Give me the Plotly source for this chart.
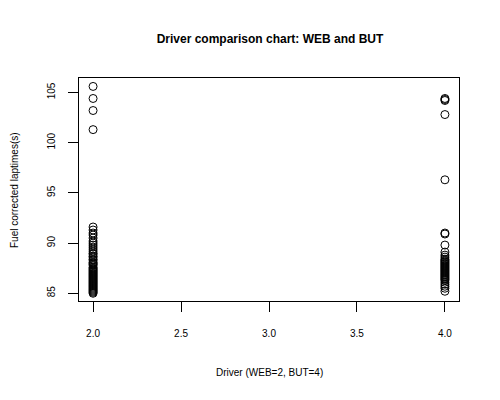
import plotly.graph_objects as go

# Data
web_laptimes = [105.6, 104.4, 103.2, 101.3,
                91.6, 91.3, 91.0, 90.8, 90.5, 90.2, 90.0, 89.8, 89.6, 89.4, 89.2,
                89.0, 88.9, 88.7, 88.6, 88.4, 88.3, 88.1, 88.0, 87.9, 87.8, 87.6,
                87.5, 87.4, 87.3, 87.2, 87.1, 87.0, 86.9, 86.8, 86.7, 86.6, 86.5,
                86.4, 86.3, 86.2, 86.1, 86.0, 85.9, 85.8, 85.7, 85.6, 85.5, 85.4,
                85.3, 85.2, 85.1, 85.0]
but_laptimes = [104.4, 104.3, 104.2, 102.8, 96.3, 91.0, 90.9, 89.8,
                89.1, 88.8, 88.6, 88.4, 88.3, 88.2, 88.1, 88.0, 87.9, 87.8, 87.7,
                87.6, 87.5, 87.4, 87.3, 87.2, 87.1, 87.0, 86.9, 86.8, 86.7, 86.6,
                86.5, 86.4, 86.3, 86.1, 85.9, 85.7, 85.5, 85.2]
web_code = 2
but_code = 4

x_vals = [web_code] * len(web_laptimes) + [but_code] * len(but_laptimes)
y_vals = web_laptimes + but_laptimes

font_family = "Liberation Sans, Arial, Helvetica, sans-serif"

# page body has an 8px margin, so the figure is drawn 8px smaller and offset
W, H = 492, 392
ML, MR, MT, MB = 71, 41, 70, 99
plot_w = W - ML - MR
plot_h = H - MT - MB
OFF = 8

fig = go.Figure()
fig.add_trace(go.Scatter(
    x=x_vals, y=y_vals, mode="markers",
    marker=dict(symbol="circle-open", size=8, color="black", line=dict(width=1, color="black")),
    showlegend=False, hoverinfo="x+y",
))

fig.update_layout(
    width=W, height=H,
    margin=dict(l=ML, r=MR, t=MT, b=MB),
    paper_bgcolor="white", plot_bgcolor="white",
    font=dict(family=font_family, size=10, color="black"),
    title=dict(text="<b>Driver comparison chart: WEB and BUT</b>",
               x=(270 - OFF - ML) / plot_w, xref="paper", xanchor="center",
               y=1 - (39 - OFF) / H, yref="container", yanchor="middle",
               font=dict(size=12, color="black", family=font_family)),
    xaxis=dict(
        range=[1.92, 4.08], tickvals=[2.0, 2.5, 3.0, 3.5, 4.0],
        ticktext=["2.0", "2.5", "3.0", "3.5", "4.0"],
        showgrid=False, zeroline=False, showline=True, mirror=True,
        linecolor="black", linewidth=1, ticks="outside", ticklen=10,
        tickcolor="black", tickfont=dict(size=10), automargin=False,
        ticklabelstandoff=13,
    ),
    yaxis=dict(
        range=[84.23, 106.44], tickvals=[85, 90, 95, 100, 105],
        showgrid=False, zeroline=False, showline=True, mirror=True,
        linecolor="black", linewidth=1, ticks="outside", ticklen=10,
        tickcolor="black", tickangle=-90, tickfont=dict(size=10), automargin=False,
        ticklabelstandoff=9,
    ),
    annotations=[
        dict(text="Driver (WEB=2, BUT=4)", showarrow=False,
             x=(269 - OFF - ML) / plot_w, xref="paper", xanchor="center",
             y=(301 - 372) / plot_h, yref="paper", yanchor="middle",
             font=dict(size=10)),
        dict(text="Fuel corrected laptimes(s)", textangle=-90, showarrow=False,
             x=(14 - OFF - ML) / plot_w, xref="paper", xanchor="center",
             y=(301 - 190) / plot_h, yref="paper", yanchor="middle",
             font=dict(size=10)),
    ],
)

fig.write_html("out.html")
